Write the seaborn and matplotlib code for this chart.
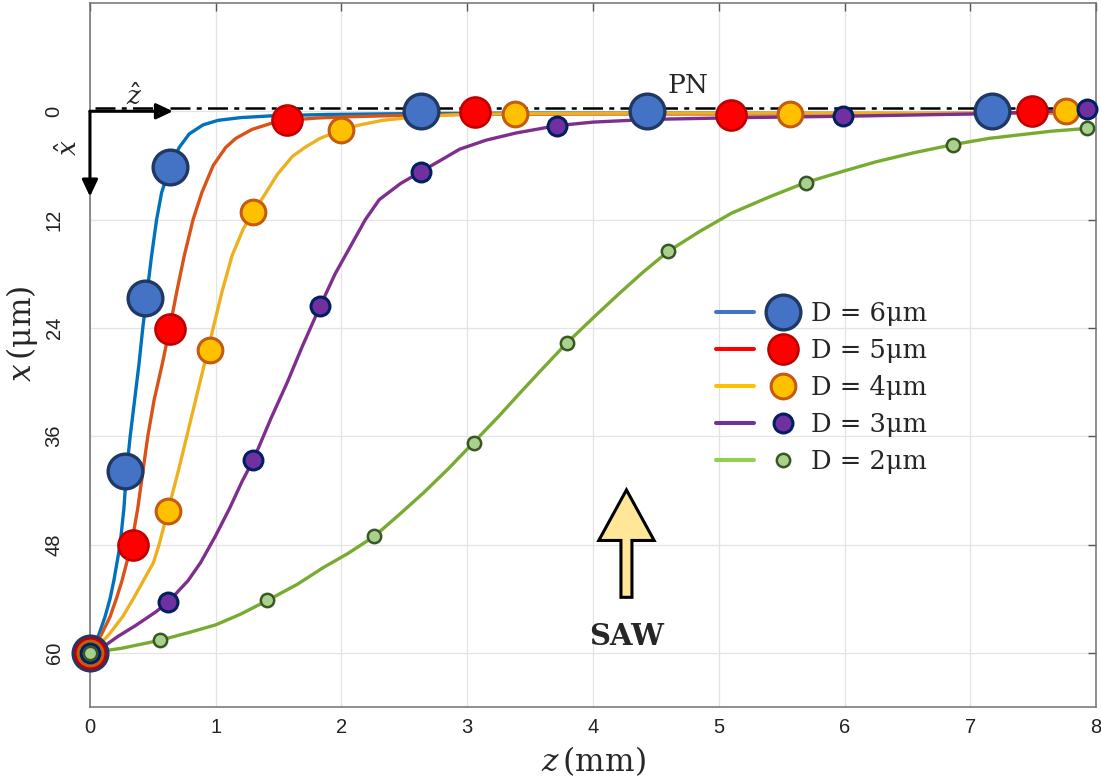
import matplotlib
matplotlib.use("Agg")
import matplotlib.pyplot as plt
import seaborn as sns
import pandas as pd
from matplotlib.lines import Line2D
from matplotlib.legend_handler import HandlerTuple
from matplotlib.patches import FancyArrow

# ---- data: z (mm) along the channel, x (um) depth ----
labels = ["D = 6μm", "D = 5μm", "D = 4μm", "D = 3μm", "D = 2μm"]

# trajectories (lines), points picked along each curve
z6 = [0, 0.07, 0.12, 0.16, 0.19, 0.24, 0.27, 0.29, 0.32, 0.355, 0.39, 0.42, 0.455, 0.49, 0.53,
      0.57, 0.64, 0.71, 0.79, 0.9, 1.02, 1.2, 1.45, 1.9, 2.6, 3.5, 5.0, 6.5, 8.0]
x6 = [60, 58, 56, 54, 52, 48, 44, 40, 36, 32, 28, 24, 20, 16, 12,
      9, 6, 4, 2.5, 1.5, 1.0, 0.7, 0.5, 0.35, 0.25, 0.2, 0.2, 0.25, 0.2]
z5 = [0, 0.09, 0.16, 0.21, 0.255, 0.33, 0.38, 0.42, 0.46, 0.51, 0.575, 0.635, 0.69, 0.75, 0.82,
      0.89, 0.98, 1.08, 1.16, 1.29, 1.45, 1.57, 1.8, 2.07, 2.5, 2.9, 4.0, 5.5, 7.0, 8.0]
x5 = [60, 58, 56, 54, 52, 48, 44, 40, 36, 32, 28, 24, 20, 16, 12,
      9, 6, 4, 3, 2, 1.3, 1.0, 0.75, 0.6, 0.45, 0.35, 0.3, 0.3, 0.25, 0.2]
z4 = [0, 0.08, 0.15, 0.26, 0.345, 0.425, 0.505, 0.55, 0.625, 0.70, 0.77, 0.84, 0.91, 0.945,
      0.98, 1.05, 1.13, 1.22, 1.31, 1.40, 1.49, 1.61, 1.71, 1.83, 2.01, 2.15, 2.33, 2.6, 2.9,
      3.4, 4.5, 5.6, 7.0, 8.0]
x4 = [60, 59, 58, 56, 54, 52, 50, 48, 44, 40, 36, 32, 28, 26,
      24, 20, 16, 13, 11, 9, 7, 5, 4, 3, 2, 1.5, 1.0, 0.6, 0.4,
      0.25, 0.2, 0.2, 0.2, 0.2]
z3 = [0, 0.1, 0.22, 0.36, 0.52, 0.62, 0.78, 0.88, 1.0, 1.11, 1.21, 1.30, 1.44, 1.57, 1.69, 1.83,
      1.95, 2.07, 2.19, 2.30, 2.47, 2.63, 2.78, 2.94, 3.15, 3.39, 3.71, 4.0, 4.45, 5.2, 6.0, 7.0,
      7.6, 8.0]
x3 = [60, 59.4, 58.2, 57, 55.5, 54.4, 52, 50, 47, 44, 41, 38.6, 34, 30, 26, 21.6,
      18, 15, 12, 9.8, 8.0, 6.7, 5.5, 4.2, 3.2, 2.4, 1.6, 1.2, 0.9, 0.7, 0.55, 0.3,
      0.05, -0.1]
z2 = [0, 0.25, 0.56, 0.8, 1.0, 1.2, 1.41, 1.65, 1.85, 2.05, 2.26, 2.45, 2.65, 2.85, 3.05, 3.25,
      3.42, 3.6, 3.79, 4.0, 4.2, 4.4, 4.6, 4.85, 5.1, 5.4, 5.69, 6.0, 6.25, 6.55, 6.86, 7.15,
      7.4, 7.65, 7.93, 8.0]
x2 = [60, 59.5, 58.6, 57.7, 56.9, 55.7, 54.2, 52.4, 50.6, 49.0, 47.1, 44.8, 42.3, 39.6, 36.7, 33.8,
      31.2, 28.5, 25.7, 22.9, 20.3, 17.8, 15.5, 13.3, 11.3, 9.5, 7.9, 6.6, 5.6, 4.6, 3.7, 3.0,
      2.6, 2.2, 1.9, 1.85]

# markers along each trajectory
mz6 = [0, 0.28, 0.44, 0.64, 2.63, 4.43, 7.17]
mx6 = [60, 39.8, 20.7, 6.2, 0, 0, 0]
mz5 = [0, 0.34, 0.635, 1.565, 3.06, 5.1, 7.49]
mx5 = [60, 48.1, 24.1, 1.0, 0.1, 0.4, 0]
mz4 = [0, 0.62, 0.953, 1.30, 2.0, 3.38, 5.57, 7.76]
mx4 = [60, 44.3, 26.4, 11.2, 2.1, 0.25, 0.25, 0]
mz3 = [0, 0.62, 1.30, 1.83, 2.63, 3.71, 5.99, 7.93]
mx3 = [60, 54.4, 38.6, 21.6, 6.7, 1.6, 0.5, -0.2]
mz2 = [0, 0.56, 1.41, 2.26, 3.05, 3.79, 4.6, 5.69, 6.86, 7.93]
mx2 = [60, 58.6, 54.2, 47.1, 36.7, 25.7, 15.5, 7.9, 3.7, 1.9]

pn_level = -0.4

lines = [(z6, x6), (z5, x5), (z4, x4), (z3, x3), (z2, x2)]
marks = [(mz6, mx6), (mz5, mx5), (mz4, mx4), (mz3, mx3), (mz2, mx2)]

# ---- styles ----
line_colors = ["#0072BD", "#D95319", "#EDB120", "#7E2F8E", "#77AC30"]
leg_line_colors = ["#4472C4", "#FF0000", "#FFC000", "#7030A0", "#92D050"]
face = ["#4472C4", "#FF0000", "#FFC000", "#7030A0", "#A9D18E"]
edge = ["#203864", "#C00000", "#C55A11", "#002060", "#385723"]
msize = [25, 21.6, 17.8, 13.6, 9.6]
medge = [2.4, 1.9, 2.2, 2.2, 1.8]

sns.set_style("white")
plt.rcParams["font.family"] = ["Liberation Sans", "DejaVu Sans"]
plt.rcParams["mathtext.fontset"] = "dejavuserif"

fig = plt.figure(figsize=(11.01, 7.8), dpi=100)
ax = fig.add_axes([0.0817, 0.0936, 0.9138, 0.9026])

for i, (zz, xx) in enumerate(lines):
    df = pd.DataFrame({"z": zz, "x": xx})
    sns.lineplot(data=df, x="z", y="x", sort=False, estimator=None, color=line_colors[i],
                 lw=2.4, ax=ax, zorder=3)

for i, (zz, xx) in enumerate(marks):
    df = pd.DataFrame({"z": zz, "x": xx})
    sns.scatterplot(data=df, x="z", y="x", s=msize[i] ** 2, color=face[i], edgecolor=edge[i],
                    linewidth=medge[i], ax=ax, zorder=5 + i, clip_on=False)

ax.axhline(pn_level, xmin=0.005, color="black", lw=1.8, dashes=(8, 2.5, 2, 2.5), zorder=4)
ax.text(4.755, -2.85, "PN", fontsize=19, family="DejaVu Serif", ha="center", va="center")

# coordinate frame arrows
arr = dict(arrowstyle="-|>,head_length=0.72,head_width=0.34", mutation_scale=14, lw=2.2,
           color="black", shrinkA=0, shrinkB=0)
ax.annotate("", xy=(0.66, 0), xytext=(0, 0), arrowprops=arr, zorder=6)
ax.annotate("", xy=(0, 9.45), xytext=(0, 0), arrowprops=arr, zorder=6)
ax.text(0.355, -1.6, r"$\hat{z}$", fontsize=19, ha="center", va="center")
ax.text(-0.17, 4.0, r"$\hat{x}$", fontsize=19, ha="center", va="center", rotation=90)

# SAW arrow
ax.add_patch(FancyArrow(4.266, 53.85, 0, -11.9, width=0.0875, head_width=0.44, head_length=5.6,
                        length_includes_head=True, fc="#FFE699", ec="black", lw=2.2, zorder=4))
ax.text(4.27, 58.2, "SAW", fontsize=21, fontweight="bold", family="DejaVu Serif",
        ha="center", va="center")

# axes
ax.set_xlim(0, 8)
ax.set_ylim(66, -12)
ax.set_xticks(range(0, 9))
ax.set_yticks([0, 12, 24, 36, 48, 60])
ax.grid(True, color="#e3e3e3", lw=0.9)
ax.set_axisbelow(True)
for s in ax.spines.values():
    s.set_color("#707070")
    s.set_linewidth(1.1)
ax.tick_params(direction="in", length=6, width=1, color="#555555", top=True, right=True,
               labelsize=14.5, labelcolor="#222222")
ax.tick_params(axis="x", pad=8)
ax.tick_params(axis="y", pad=19)
plt.setp(ax.get_yticklabels(), rotation=90, va="center")
ax.set_xlabel(r"$z\,$(mm)", fontsize=22.5, family="DejaVu Serif")
ax.set_ylabel(r"$x\,$(μm)", fontsize=22.5, family="DejaVu Serif")
ax.xaxis.set_label_coords(0.5, -0.053)
ax.yaxis.set_label_coords(-0.05, 0.53)

# legend: short line, then marker, then text
handles = []
for i in range(5):
    ln = Line2D([], [], color=leg_line_colors[i], lw=2.9)
    mk = Line2D([], [], ls="none", marker="o", ms=msize[i], mfc=face[i], mec=edge[i],
                mew=medge[i])
    handles.append((ln, mk))
ax.legend(handles, labels, handler_map={tuple: HandlerTuple(ndivide=None, pad=0.41)},
          handlelength=3.36, handletextpad=0.35, labelspacing=0.46, frameon=False,
          prop={"family": "DejaVu Serif", "size": 18.5}, loc="upper left",
          bbox_to_anchor=(0.622, 0.576), borderaxespad=0, borderpad=0)

fig.savefig("out.png", dpi=100)
